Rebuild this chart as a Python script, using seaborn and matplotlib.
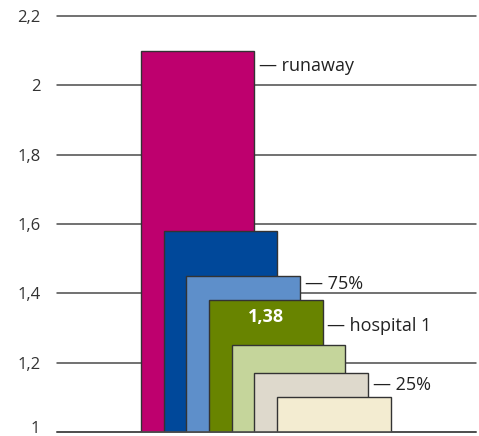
import numpy as np
import pandas as pd
import matplotlib
matplotlib.use("Agg")
import matplotlib.pyplot as plt
import matplotlib.transforms as mtransforms
import seaborn as sns

# Bar heights, front-most bar last
values = [2.10, 1.58, 1.45, 1.38, 1.25, 1.17, 1.10]
bar_labels = ["runaway", "", "75%", "hospital 1", "", "25%", ""]
colors = ["#BE006E", "#00489A", "#5E8FCA", "#688400", "#C5D59B", "#DED9CC", "#F3ECD1"]
highlight_index = 3
y_ticks = [1.0, 1.2, 1.4, 1.6, 1.8, 2.0, 2.2]
y_tick_labels = ["1", "1,2", "1,4", "1,6", "1,8", "2", "2,2"]

sns.set_style("white")
plt.rcParams["font.family"] = ["Open Sans", "DejaVu Sans"]

df = pd.DataFrame({
    "pos": np.arange(len(values)),
    "value": values,
    "bar": [str(i) for i in range(len(values))],
})

fig = plt.figure(figsize=(4.79, 4.36), dpi=100)
ax = fig.add_axes([57 / 479, 4 / 436, 419 / 479, 416 / 436])

bar_width = 5.0
sns.barplot(data=df, x="pos", y="value", hue="bar", palette=colors,
            saturation=1, dodge=False, native_scale=True, width=bar_width,
            edgecolor="#333333", linewidth=1.0, errorbar=None,
            legend=False, ax=ax, zorder=2)

ax.set_ylim(1.0, 2.2)
ax.set_xlim(-6.2, 12.26)
ax.set_xticks([])
ax.set_yticks(y_ticks)
ax.set_yticklabels(y_tick_labels)
ax.tick_params(axis="y", length=0, pad=12, labelsize=12, labelcolor="#333333")
ax.set_xlabel("")
ax.set_ylabel("")

# Lift the lowest tick label so it stays inside the figure
lowest = ax.get_yticklabels()[0]
lowest.set_transform(lowest.get_transform() +
                     mtransforms.ScaledTranslation(0, 5 / 100, fig.dpi_scale_trans))

for s in ["left", "right", "top", "bottom"]:
    ax.spines[s].set_visible(False)

for yv in y_ticks:
    ax.axhline(yv, color="#4a4a4a", linewidth=1.1, zorder=1, clip_on=False)
ax.axhline(y_ticks[0], color="#4a4a4a", linewidth=1.2, zorder=5, clip_on=False)

# Side labels next to the right edge of selected bars (offsets in points)
label_offsets = {0: -15, 2: -9.5, 3: -22, 5: -12}
for i, lab in enumerate(bar_labels):
    if not lab:
        continue
    ax.annotate("\u2014 " + lab, xy=(i + bar_width / 2, values[i]),
                xytext=(3.5, label_offsets[i]), textcoords="offset points",
                ha="left", va="baseline", fontsize=13, color="#222222")

# Value printed inside the highlighted bar
ax.annotate(f"{values[highlight_index]:.2f}".replace(".", ","),
            xy=(highlight_index, values[highlight_index]),
            xytext=(0, -16), textcoords="offset points",
            ha="center", va="baseline", fontsize=13, fontweight="bold",
            color="white", zorder=6)

fig.savefig("out.png", dpi=100)
